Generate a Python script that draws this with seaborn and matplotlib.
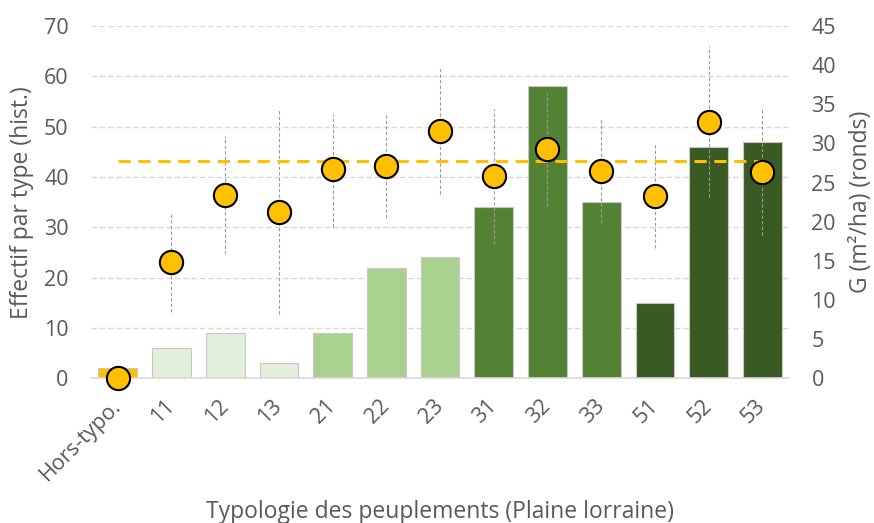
import numpy as np
import pandas as pd
import matplotlib
matplotlib.use("Agg")
import matplotlib.pyplot as plt
import seaborn as sns

# effectif par type (barres, axe gauche)
types = ["Hors-typo.", "11", "12", "13", "21", "22", "23", "31", "32", "33", "51", "52", "53"]
effectif = [2, 6, 9, 3, 9, 22, 24, 34, 58, 35, 15, 46, 47]
# surface terriere (ronds, axe droit) + min / max
g_moy = [0, 14.85, 23.4, 21.3, 26.7, 27.1, 31.6, 25.8, 29.3, 26.5, 23.3, 32.8, 26.3]
g_haut = [np.nan, 21.3, 31.0, 34.3, 33.8, 33.7, 39.6, 34.4, 36.5, 33.2, 29.9, 42.5, 34.4]
g_bas = [np.nan, 8.45, 15.9, 8.2, 19.3, 20.5, 23.6, 17.2, 22.0, 19.8, 16.7, 23.2, 18.3]
g_moyenne = 27.7
groupe = ["H", "1", "1", "1", "2", "2", "2", "3", "3", "3", "5", "5", "5"]
couleurs = {"H": "#FFC000", "1": "#E2EFDA", "2": "#A9D18E", "3": "#548235", "5": "#3A5A24"}

gris = "#595959"
sns.set_theme(style="white")
plt.rcParams['font.family'] = ['Open Sans', 'DejaVu Sans']

df = pd.DataFrame({"type": types, "effectif": effectif, "groupe": groupe})

fig, ax = plt.subplots(figsize=(8.74, 5.23), dpi=100)
fig.subplots_adjust(left=0.104, right=0.903, top=0.950, bottom=0.277)

sns.barplot(data=df, x="type", y="effectif", hue="groupe", palette=couleurs,
            dodge=False, width=0.72, saturation=1, edgecolor="#c8c8c8", linewidth=0.8,
            legend=False, ax=ax, zorder=2)
ax.set_ylim(0, 70)
ax.set_yticks(range(0, 71, 10))
ax.set_xlim(-0.5, len(types) - 0.5)
ax.grid(axis="y", color="#d9d9d9", linestyle=(0, (4, 2)), linewidth=1, zorder=0)
ax.set_axisbelow(True)
for s in ["top", "left", "right"]:
    ax.spines[s].set_visible(False)
ax.spines["bottom"].set_color("#d9d9d9")
ax.spines["bottom"].set_linewidth(1.2)
ax.tick_params(axis="both", length=0, labelsize=15.5, colors=gris)
ax.tick_params(axis="y", pad=16)
ax.tick_params(axis="x", pad=18)
plt.setp(ax.get_xticklabels(), rotation=45, ha="right", va="center", rotation_mode="anchor")
ax.set_ylabel("Effectif par type (hist.)", fontsize=16.5, color=gris, labelpad=7)
ax.set_xlabel("Typologie des peuplements (Plaine lorraine)", fontsize=16.5, color=gris)
ax.xaxis.set_label_coords(0.5, -0.345)

ax2 = ax.twinx()
x = np.arange(len(types))
ax2.vlines(x, g_bas, g_haut, colors="#9a9a9a", linestyles=(0, (3, 2)), linewidth=0.8, zorder=3)
ax2.hlines(g_moyenne, x[0], x[-1], colors="#FFC000", linestyles=(0, (4, 2.5)), linewidth=2.2, zorder=4)
sns.scatterplot(x=x, y=g_moy, ax=ax2, s=280, color="#FFC000", edgecolor="black",
                linewidth=1.5, zorder=5, clip_on=False)
ax2.set_ylim(0, 45)
ax2.set_yticks(range(0, 46, 5))
ax2.set_xlim(-0.5, len(types) - 0.5)
for s in ["top", "left", "right", "bottom"]:
    ax2.spines[s].set_visible(False)
ax2.tick_params(axis="y", length=0, labelsize=15.5, colors=gris, pad=16)
ax2.set_ylabel("G (m²/ha) (ronds)", fontsize=16.5, color=gris, labelpad=9)
ax2.grid(False)

plt.savefig("out.png", dpi=100)
